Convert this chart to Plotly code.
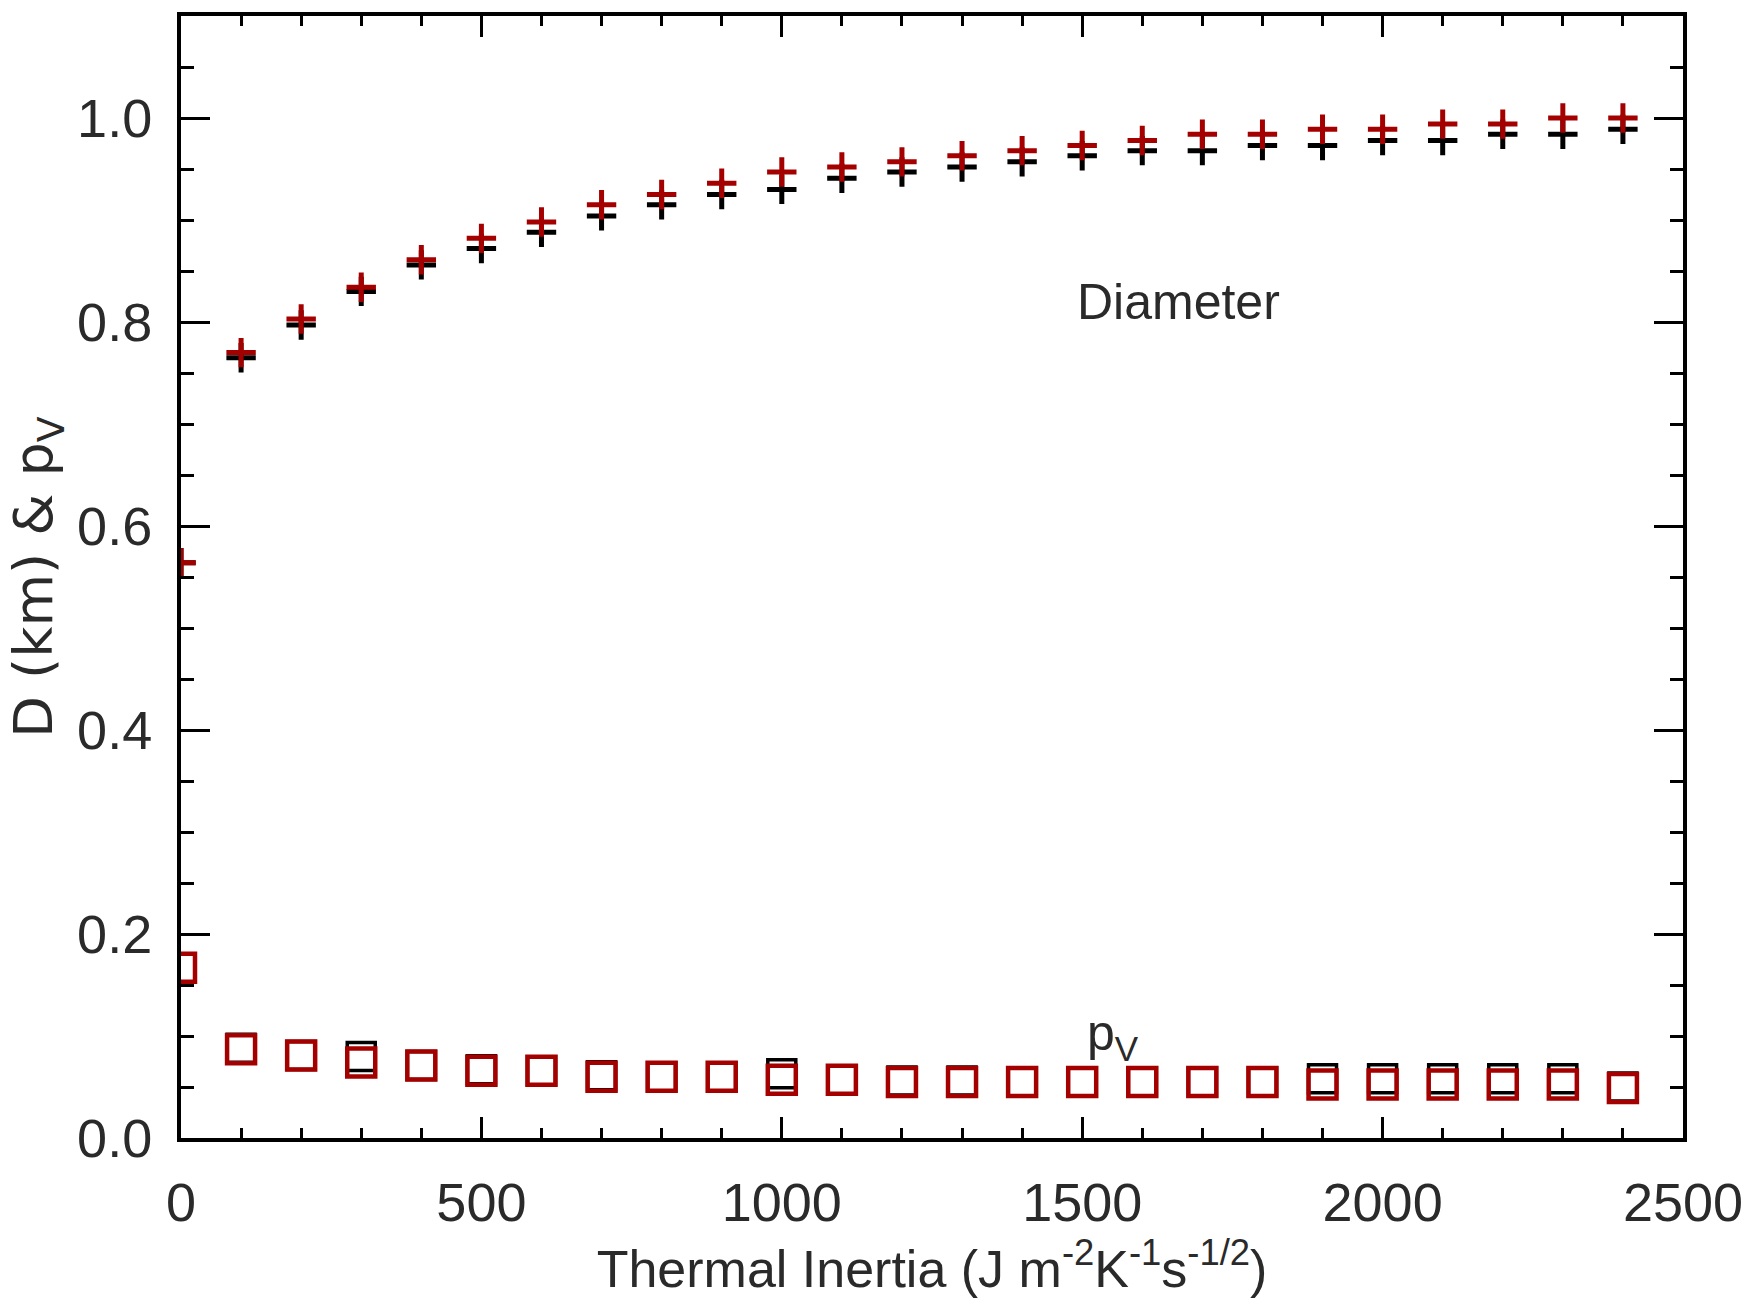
import plotly.graph_objects as go

# Thermal inertia values (x)
thermal_inertia = [0, 100, 200, 300, 400, 500, 600, 700, 800, 900, 1000, 1100, 1200,
                   1300, 1400, 1500, 1600, 1700, 1800, 1900, 2000, 2100, 2200, 2300, 2400]

# Diameter (km) - black and red series
diam_black = [0.564, 0.765, 0.797, 0.830, 0.856, 0.872, 0.888, 0.904, 0.915, 0.925, 0.930, 0.941,
              0.947, 0.952, 0.957, 0.963, 0.968, 0.968, 0.973, 0.973, 0.978, 0.978, 0.984, 0.984, 0.989]
diam_red = [0.564, 0.770, 0.803, 0.834, 0.861, 0.882, 0.898, 0.915, 0.925, 0.936, 0.947, 0.952,
            0.957, 0.963, 0.968, 0.973, 0.978, 0.984, 0.984, 0.989, 0.989, 0.994, 0.994, 1.000, 1.000]

# Geometric albedo p_V - black and red series
pv_black = [0.167, 0.088, 0.081, 0.080, 0.071, 0.067, 0.066, 0.061, 0.060, 0.060, 0.063, 0.057,
            0.056, 0.056, 0.055, 0.055, 0.055, 0.055, 0.055, 0.058, 0.058, 0.058, 0.058, 0.058, 0.050]
pv_red = [0.167, 0.087, 0.081, 0.074, 0.071, 0.066, 0.066, 0.060, 0.060, 0.060, 0.057, 0.057,
          0.055, 0.055, 0.055, 0.055, 0.055, 0.055, 0.055, 0.0525, 0.0525, 0.0525, 0.0525, 0.0525, 0.049]

x_ticks = [0, 500, 1000, 1500, 2000, 2500]
y_ticks = [0.0, 0.2, 0.4, 0.6, 0.8, 1.0]

BLACK = "#000000"
RED = "#a50000"
FONT = "Liberation Sans, Arial, Helvetica, sans-serif"
TEXT = "#2a2a2a"

fig = go.Figure()

fig.add_trace(go.Scatter(
    x=thermal_inertia, y=diam_black, mode="markers", name="D black",
    marker=dict(symbol="cross-thin", size=21, line=dict(color=BLACK, width=5), color=BLACK),
))
fig.add_trace(go.Scatter(
    x=thermal_inertia, y=pv_black, mode="markers", name="pV black",
    marker=dict(symbol="square-open", size=28, line=dict(color=BLACK, width=3.5), color=BLACK),
))
fig.add_trace(go.Scatter(
    x=thermal_inertia, y=diam_red, mode="markers", name="D red",
    marker=dict(symbol="cross-thin", size=21, line=dict(color=RED, width=5), color=RED),
))
fig.add_trace(go.Scatter(
    x=thermal_inertia, y=pv_red, mode="markers", name="pV red",
    marker=dict(symbol="square-open", size=28, line=dict(color=RED, width=4.5), color=RED),
))

fig.add_annotation(x=1660, y=0.82, text="Diameter", showarrow=False,
                   font=dict(family=FONT, size=50, color=TEXT), xanchor="center", yanchor="middle")
fig.add_annotation(x=1505, y=0.10, text="p<sub>V</sub>", showarrow=False,
                   font=dict(family=FONT, size=50, color=TEXT), xanchor="left", yanchor="middle")

fig.update_layout(
    width=1763, height=1298,
    margin=dict(l=181, r=80, t=13, b=160),
    paper_bgcolor="white", plot_bgcolor="white",
    showlegend=False,
    font=dict(family=FONT, color=TEXT),
)

fig.update_xaxes(
    range=[0, 2500], tickmode="array", tickvals=x_ticks, ticktext=[str(v) for v in x_ticks],
    showgrid=False, zeroline=False,
    showline=True, linecolor=BLACK, linewidth=4, mirror="allticks",
    ticks="inside", ticklen=21, tickwidth=3, tickcolor=BLACK,
    minor=dict(ticks="inside", dtick=100, tick0=0, ticklen=10, tickwidth=3, tickcolor=BLACK, showgrid=False),
    tickfont=dict(family=FONT, size=54, color=TEXT),
    ticklabelstandoff=14,
    title=dict(text="Thermal Inertia (J m<sup>-2</sup>K<sup>-1</sup>s<sup>-1/2</sup>)",
               font=dict(family=FONT, size=52, color=TEXT), standoff=14),
)
fig.update_yaxes(
    range=[0, 1.1], tickmode="array", tickvals=y_ticks, ticktext=[f"{v:.1f}" for v in y_ticks],
    showgrid=False, zeroline=False,
    showline=True, linecolor=BLACK, linewidth=4, mirror="allticks",
    ticks="inside", ticklen=29, tickwidth=3, tickcolor=BLACK,
    minor=dict(ticks="inside", dtick=0.05, tick0=0, ticklen=13, tickwidth=3, tickcolor=BLACK, showgrid=False),
    tickfont=dict(family=FONT, size=54, color=TEXT),
    ticklabelstandoff=14,
    title=dict(text="D (km) &amp; p<sub>V</sub>", font=dict(family="DejaVu Sans", size=54, color=TEXT), standoff=8),
)

fig.write_html("out.html")
